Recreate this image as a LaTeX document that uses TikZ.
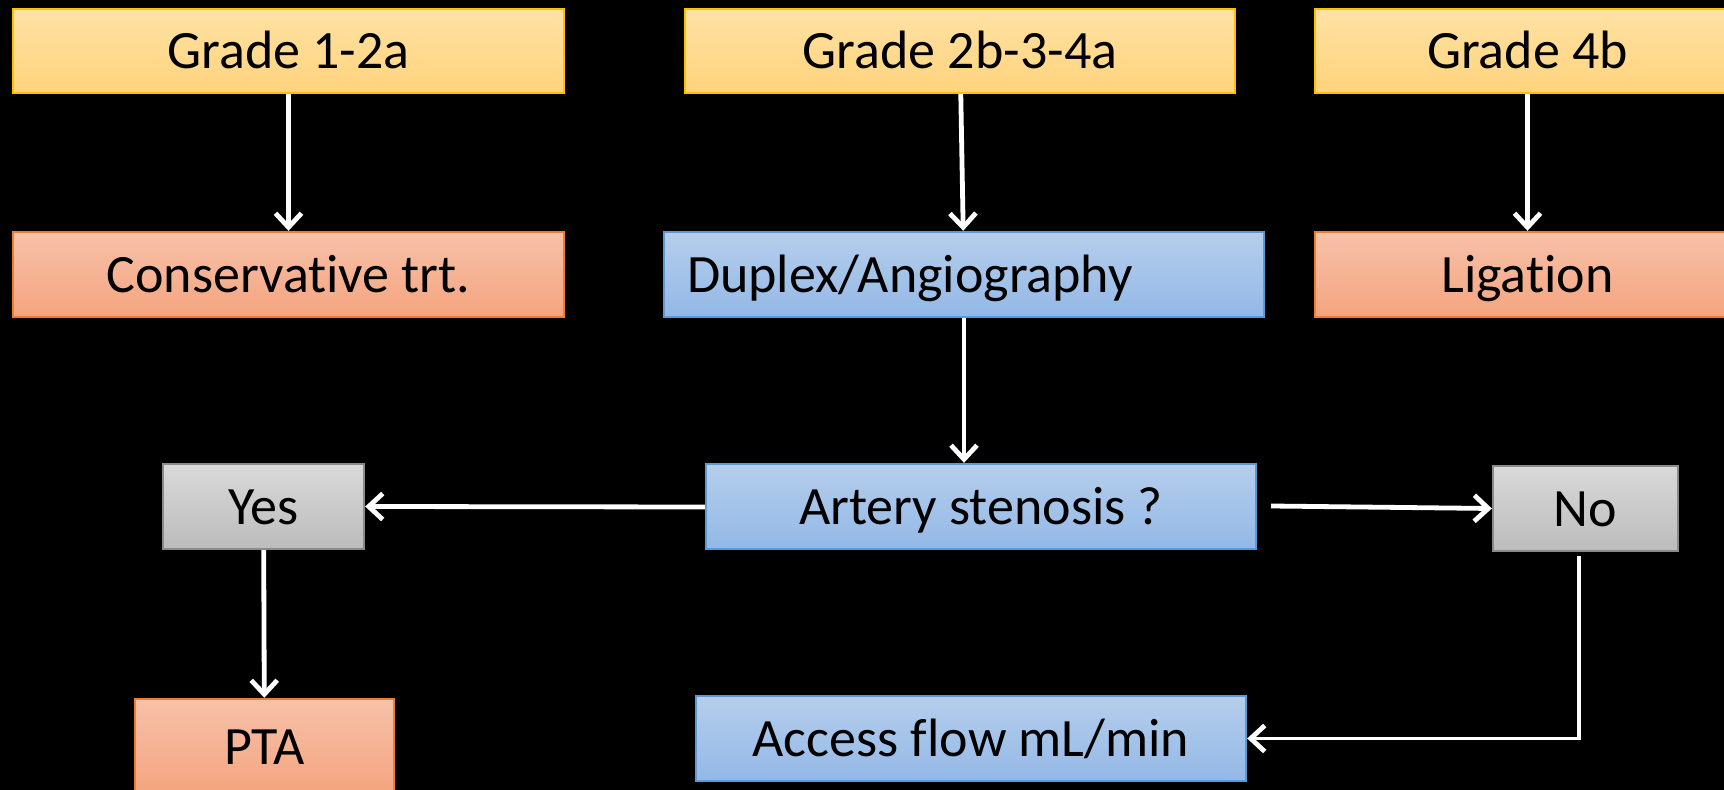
\documentclass[tikz,border=0pt]{standalone}
\usepackage{fontspec}
\setmainfont{Carlito}[Ligatures=NoCommon]
\usetikzlibrary{arrows.meta}
\definecolor{ytop}{HTML}{FFE2A4}
\definecolor{ybot}{HTML}{FFD37C}
\definecolor{yline}{HTML}{FFC000}
\definecolor{stop}{HTML}{F7C1A9}
\definecolor{sbot}{HTML}{F4A47F}
\definecolor{sline}{HTML}{ED7D31}
\definecolor{btop}{HTML}{B5CEEC}
\definecolor{bbot}{HTML}{93B8E6}
\definecolor{bline}{HTML}{5B9BD5}
\definecolor{gtop}{HTML}{D9D9D9}
\definecolor{gbot}{HTML}{BCBCBC}
\definecolor{gline}{HTML}{8A8A8A}
\tikzset{
  box/.style={rectangle, inner sep=0pt, line width=1.2pt, font=\fontsize{27}{31}\selectfont, text=black, text height=18pt, text depth=0pt},
  ybox/.style={box, draw=yline, top color=ytop, bottom color=ybot},
  sbox/.style={box, draw=sline, top color=stop, bottom color=sbot},
  bbox/.style={box, draw=bline, top color=btop, bottom color=bbot},
  gbox/.style={box, draw=gline, top color=gtop, bottom color=gbot},
  conn/.style={draw=white, line width=2.4pt, -{Straight Barb[length=7pt,width=13pt,line width=2.4pt]}}
}
\begin{document}
\begin{tikzpicture}[x=0.5pt,y=-0.5pt]
\path[fill=black, use as bounding box] (0,0) rectangle (1724,790);
\begin{scope}
\clip (0,0) rectangle (1724,790);
\node[ybox, minimum width=275.5pt, minimum height=42pt] (g1) at (288.5,51) {Grade 1-2a};
\node[ybox, minimum width=275pt, minimum height=42pt] (g2) at (960,51) {Grade 2b-3-4a};
\node[ybox, minimum width=212.5pt, minimum height=42pt] (g3) at (1527.5,51) {Grade 4b};
\node[sbox, minimum width=275.5pt, minimum height=42.5pt] (cons) at (288.5,274.5) {Conservative trt.};
\node[bbox, minimum height=42.5pt, text width=277pt, inner xsep=11.5pt, align=left] (dup) at (964,274.5) {Duplex/Angiography};
\node[sbox, minimum width=212.5pt, minimum height=42.5pt] (lig) at (1527.5,274.5) {Ligation};
\node[gbox, minimum width=100.5pt, minimum height=42.5pt] (yes) at (263.5,506.5) {Yes};
\node[bbox, minimum width=275pt, minimum height=42.5pt] (art) at (981,506.5) {Artery stenosis ?};
\node[gbox, minimum width=92.5pt, minimum height=42.5pt] (no) at (1585.5,508.5) {No};
\node[sbox, minimum width=129.5pt, minimum height=47.5pt] (pta) at (264.5,746.5) {PTA};
\node[bbox, minimum width=275pt, minimum height=42.5pt] (acc) at (971,738.5) {Access flow mL/min};
\end{scope}
\path[conn] (g1) -- (cons);
\path[conn] (g2) -- (dup);
\path[conn] (g3) -- (lig);
\path[conn] (dup.south) -- (dup.south |- art.north);
\path[conn] (art.west |- 0,507) -- (yes.east);
\coordinate (aout) at (1271,506);
\path[conn] (aout) -- (no.west);
\path[conn] (yes) -- (pta);
\coordinate (nout) at (1579,556);
\path[conn, line width=1.8pt] (nout) |- (acc.east);
\end{tikzpicture}
\end{document}
